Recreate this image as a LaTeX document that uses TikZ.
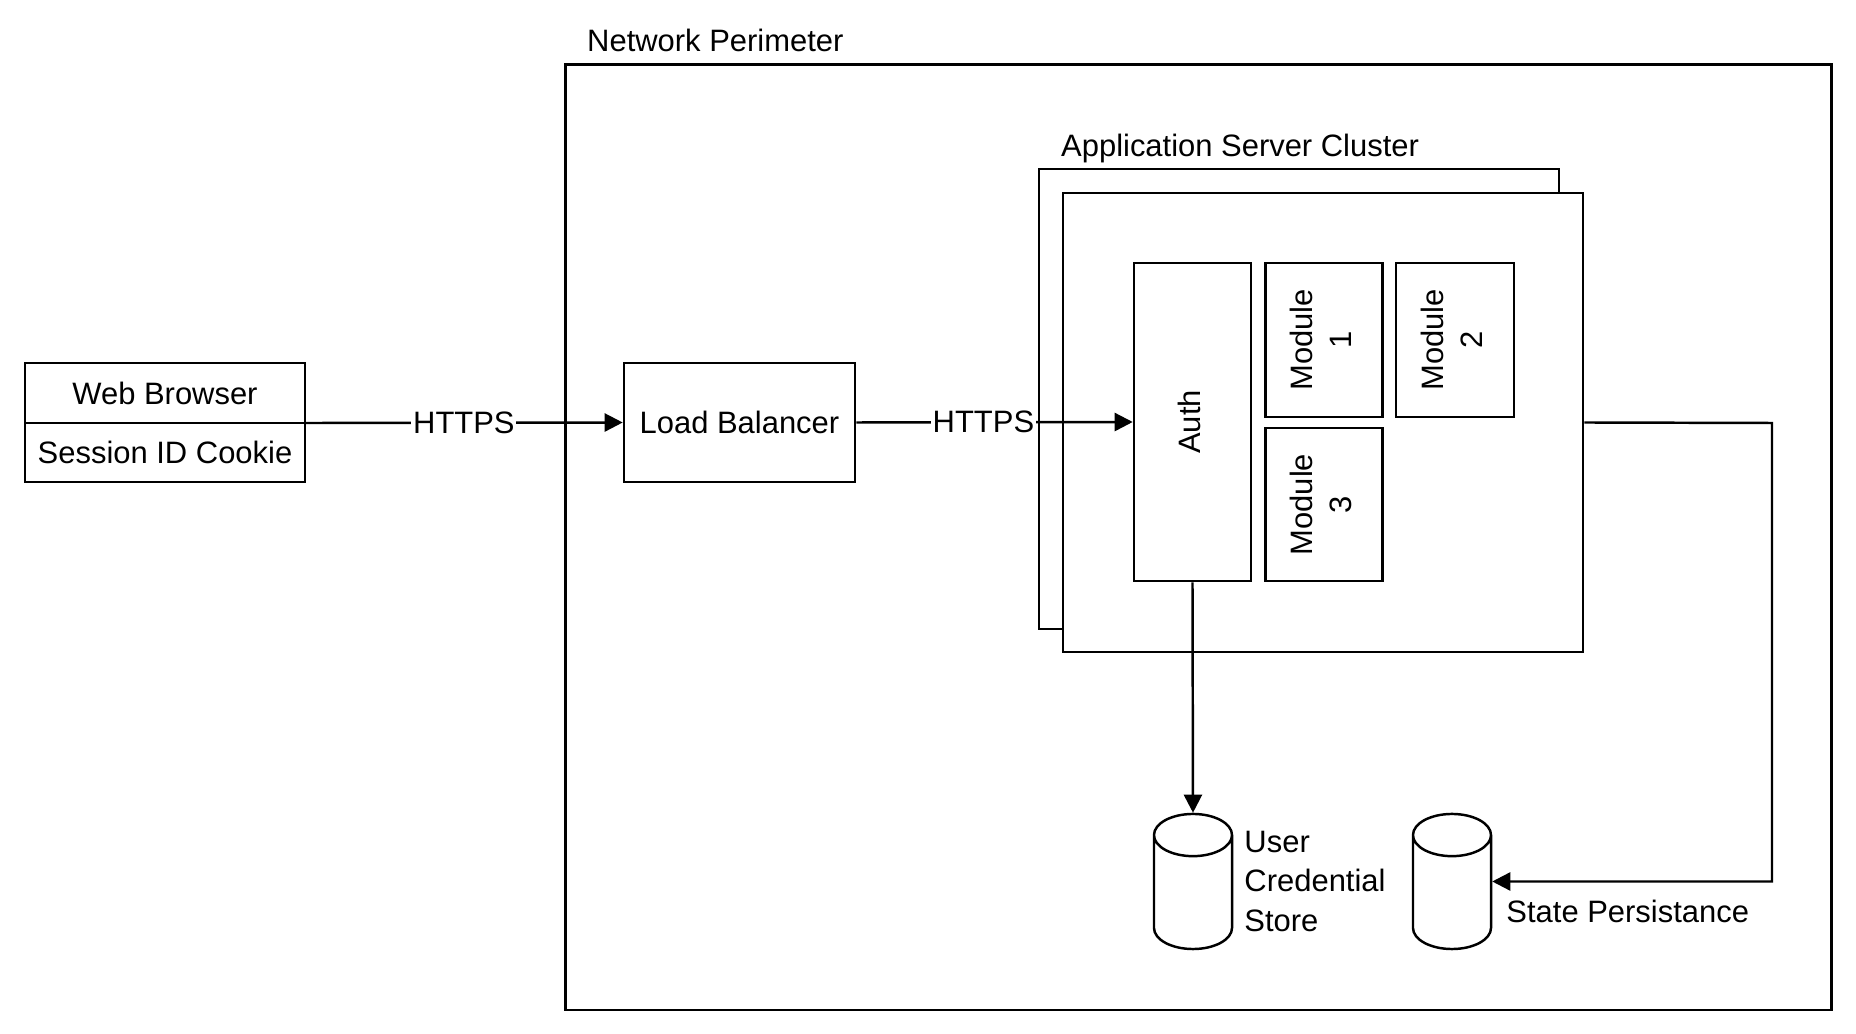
\documentclass[tikz,border=0pt]{standalone}
\usepackage{fontspec}
\setmainfont{Liberation Sans}
\usetikzlibrary{shapes.geometric,arrows.meta,positioning,calc}

\newcommand{\vlabel}[1]{\rotatebox{90}{\begin{tabular}{@{}c@{}}#1\end{tabular}}}

\tikzset{
  txt/.style={font=\fontsize{8.8}{11.2}\selectfont, inner sep=1pt},
  box/.style={draw, line width=0.7pt, txt, inner sep=0pt},
  store/.style={draw, line width=0.7pt, fill=white, cylinder, shape border rotate=90, aspect=1.8, minimum width=0.78cm, minimum height=1.35cm, anchor=shape center},
  link/.style={line width=0.7pt, -{Triangle[length=0.18cm, width=0.18cm]}},
  proto/.style={txt, fill=white, inner sep=0.5pt}
}

\begin{document}
\begin{tikzpicture}[x=0.01cm, y=-0.01cm]
  \useasboundingbox (0,0) rectangle (1856,1034);

  \node[box, minimum width=12.65cm, minimum height=9.45cm] (perimeter) at (1198.5,537.5) {};
  \node[txt, anchor=base west] (perimeterlabel) at (583,52) {Network Perimeter};

  \node[box, outer sep=0pt, minimum width=2.8cm, minimum height=0.6cm] (browser) at (165,393) {Web Browser};
  \node[box, outer sep=0pt, below=0pt of browser, minimum width=2.8cm, minimum height=0.59cm] (cookie) {Session ID Cookie};

  \node[box, minimum width=2.31cm, minimum height=1.19cm] (lb) at (739.5,422.5) {Load Balancer};

  % server cluster
  \node[box, minimum width=5.2cm, minimum height=4.6cm] (clusterback) at (1299,399) {};
  \node[box, fill=white, minimum width=5.2cm, minimum height=4.59cm] (cluster) at (1323,422.5) {};
  \node[txt, anchor=base west] (clusterlabel) at (1057,157) {Application Server Cluster};

  \node[box, minimum width=1.17cm, minimum height=3.18cm] (auth) at (1192.5,422) {\vlabel{Auth}};
  \node[box, anchor=north west, minimum width=1.17cm, minimum height=1.54cm] (mod1) at ([xshift=0.12cm]auth.north east) {\vlabel{Module\\1}};
  \node[box, anchor=north west, minimum width=1.18cm, minimum height=1.54cm] (mod2) at ([xshift=0.11cm]mod1.north east) {\vlabel{Module\\2}};
  \node[box, anchor=south west, minimum width=1.17cm, minimum height=1.53cm] (mod3) at ([xshift=0.12cm]auth.south east) {\vlabel{Module\\3}};

  % storage
  \node[store] (cred) at (1193,881.5) {};
  \node[txt, align=left, anchor=west] (credlabel) at ([xshift=0.07cm]cred.east |- cred.shape center) {User\\Credential\\Store};
  \node[store] (state) at (1452,881.5) {};
  \node[txt, anchor=west] (statelabel) at ([xshift=0.1cm, yshift=-0.295cm]state.east |- state.shape center) {State Persistance};

  \coordinate (bend) at (1772,423);

  \draw[link] (browser.south east) -- node[proto] {HTTPS} (lb.west);
  \draw[link] (lb.east) -- node[proto, pos=0.46] {HTTPS} (auth.west);
  \draw[link] (auth.south) -- (cred.north);
  \draw[link] (cluster.east) -- (bend) |- (state.east |- state.shape center);
\end{tikzpicture}
\end{document}
